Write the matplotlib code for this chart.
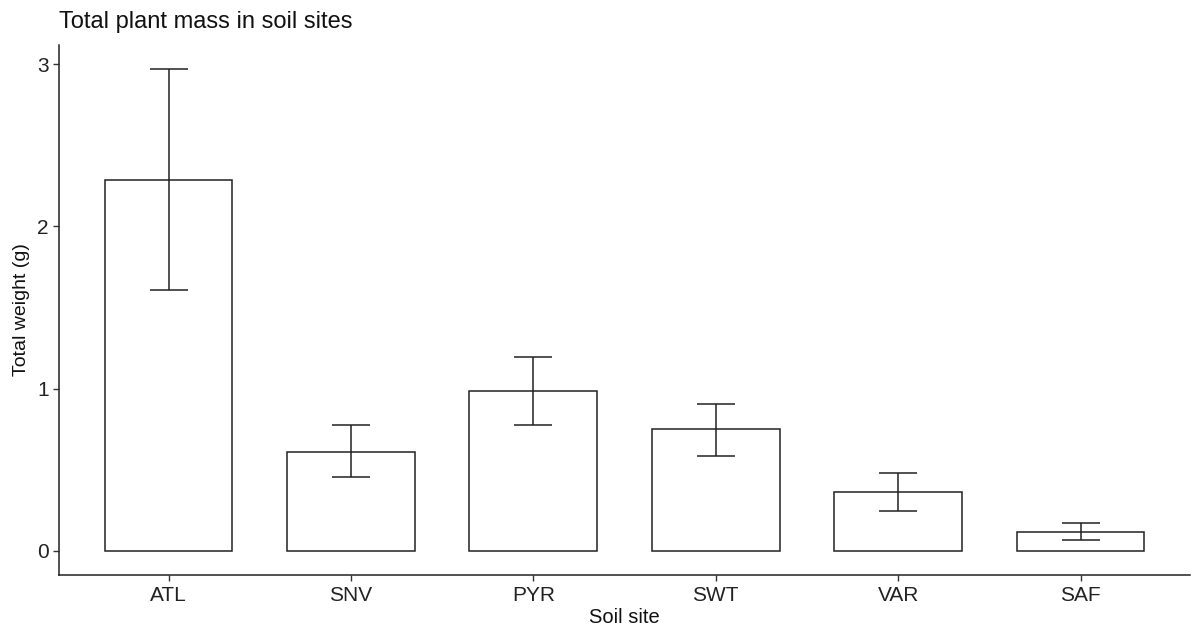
import matplotlib.pyplot as plt

sites = ["ATL", "SNV", "PYR", "SWT", "VAR", "SAF"]
mean_weight = [2.285, 0.612, 0.985, 0.748, 0.365, 0.118]
err_low = [1.605, 0.452, 0.775, 0.585, 0.248, 0.068]
err_high = [2.968, 0.775, 1.195, 0.905, 0.480, 0.170]

plt.rcParams["font.family"] = ["Liberation Sans", "DejaVu Sans"]

fig = plt.figure(figsize=(11.93, 6.26), dpi=100)
ax = fig.add_axes([0.0495, 0.0815, 0.948, 0.8465])

x = list(range(1, len(sites) + 1))
ax.bar(x, mean_weight, width=0.7, facecolor="white", edgecolor="#222222", linewidth=1.1, zorder=2)
yerr = [[m - lo for m, lo in zip(mean_weight, err_low)],
        [hi - m for m, hi in zip(mean_weight, err_high)]]
ax.errorbar(x, mean_weight, yerr=yerr, fmt="none", ecolor="#222222",
            elinewidth=1.1, capsize=13.5, capthick=1.1, zorder=3)

ax.set_xlim(0.4, 6.6)
ax.set_ylim(-0.149, 3.117)
ax.set_xticks(x)
ax.set_xticklabels(sites)
ax.set_yticks([0, 1, 2, 3])
ax.tick_params(axis="both", labelsize=15, colors="#333333", length=4, width=1.0,
               labelcolor="#222222")
ax.tick_params(axis="x", pad=4)
for side in ["top", "right"]:
    ax.spines[side].set_visible(False)
for side in ["left", "bottom"]:
    ax.spines[side].set_color("#222222")
    ax.spines[side].set_linewidth(1.1)

ax.set_xlabel("Soil site", fontsize=14.5, color="#111111", labelpad=2)
ax.set_ylabel("Total weight (g)", fontsize=14, color="#111111", labelpad=5)
ax.set_title("Total plant mass in soil sites", fontsize=17, loc="left", pad=12, color="#111111")

fig.savefig("out.png", dpi=100)
